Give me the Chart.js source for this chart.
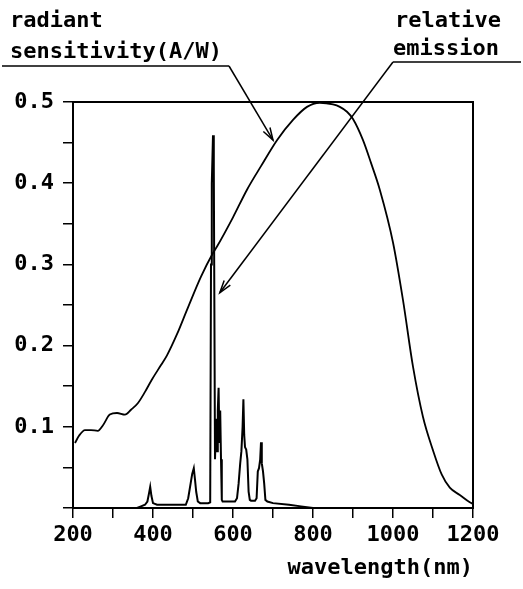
<!DOCTYPE html>
<html lang="en">
<head>
  <meta charset="UTF-8" />
  <title>Radiant sensitivity and relative emission</title>
  <script src="https://cdn.jsdelivr.net/npm/chart.js"></script>
  <style>
    body {
      margin: 0;
      background: #fff;
    }
    .wrap {
      width: 523px;
      height: 589px;
      position: relative;
    }
  </style>
</head>
<body>
  <div class="wrap">
    <canvas id="spectrumChart"></canvas>
  </div>

  <script>
    // radiant sensitivity (A/W) vs wavelength (nm)
    const sensWavelength = [205, 215, 230, 245, 262, 275, 292, 310, 330, 345, 362, 380, 397, 420, 435, 460, 485,
      520, 550, 560, 600, 635, 670, 710, 750, 785, 817, 850, 867, 885, 900, 925, 945, 967, 1000, 1025, 1050,
      1075, 1100, 1122, 1142, 1167, 1192, 1200];
    const sensValues = [0.080, 0.089, 0.096, 0.096, 0.095, 0.102, 0.115, 0.117, 0.115, 0.121, 0.129, 0.143, 0.158,
      0.176, 0.188, 0.214, 0.244, 0.285, 0.314, 0.322, 0.358, 0.392, 0.421, 0.453, 0.478, 0.494, 0.499, 0.497,
      0.494, 0.488, 0.479, 0.453, 0.425, 0.392, 0.327, 0.256, 0.174, 0.112, 0.071, 0.041, 0.025, 0.016, 0.007,
      0.005];

    // relative emission of the light source
    const emisWavelength = [360, 370, 380, 386, 390, 393, 396, 400, 410, 450, 482, 488, 494, 498, 502, 505, 508,
      512, 518, 538, 543, 545, 547, 550, 552, 553, 555, 556, 558, 560, 562, 564, 566, 568, 570, 572, 574, 576,
      590, 605, 610, 614, 618, 621, 624, 626, 628, 630, 633, 636, 639, 642, 645, 655, 659, 662, 665, 668, 670,
      672, 675, 678, 681, 686, 700, 740, 770, 800];
    const emisValues = [0.000, 0.002, 0.004, 0.008, 0.018, 0.026, 0.015, 0.006, 0.004, 0.004, 0.004, 0.012, 0.030,
      0.042, 0.049, 0.035, 0.020, 0.008, 0.006, 0.006, 0.007, 0.300, 0.400, 0.459, 0.420, 0.300, 0.060, 0.060,
      0.110, 0.070, 0.120, 0.148, 0.080, 0.120, 0.060, 0.010, 0.008, 0.008, 0.008, 0.008, 0.012, 0.030, 0.055,
      0.070, 0.100, 0.134, 0.090, 0.075, 0.072, 0.060, 0.020, 0.010, 0.009, 0.009, 0.012, 0.045, 0.049, 0.060,
      0.081, 0.055, 0.045, 0.030, 0.010, 0.008, 0.006, 0.004, 0.002, 0.000];

    const xTicks = [200, 400, 600, 800, 1000, 1200];
    const yTicks = [0.1, 0.2, 0.3, 0.4, 0.5];

    const FONT = "'DejaVu Sans Mono', 'Liberation Mono', monospace";

    const toPoints = (xs, ys) => xs.map((x, i) => ({ x: x, y: ys[i] }));

    // frame + callout labels with leader arrows
    const calloutPlugin = {
      id: 'callouts',
      afterDraw(chart) {
        const { ctx, chartArea: a, scales } = chart;
        ctx.save();
        ctx.strokeStyle = '#000';
        ctx.lineWidth = 2;
        ctx.strokeRect(a.left, a.top, a.right - a.left, a.bottom - a.top);

        ctx.fillStyle = '#000';
        ctx.font = 'bold 22px ' + FONT;
        ctx.textBaseline = 'alphabetic';
        ctx.textAlign = 'left';
        ctx.fillText('radiant', 10, 27);
        ctx.fillText('sensitivity(A/W)', 10, 58);
        ctx.textAlign = 'right';
        ctx.fillText('relative', 501, 27);
        ctx.fillText('emission', 499, 55);

        const arrow = (x0, y0, x1, y1) => {
          ctx.beginPath();
          ctx.moveTo(x0, y0);
          ctx.lineTo(x1, y1);
          ctx.stroke();
          const ang = Math.atan2(y1 - y0, x1 - x0);
          ctx.beginPath();
          ctx.moveTo(x1 - 13 * Math.cos(ang - 0.3), y1 - 13 * Math.sin(ang - 0.3));
          ctx.lineTo(x1, y1);
          ctx.lineTo(x1 - 13 * Math.cos(ang + 0.3), y1 - 13 * Math.sin(ang + 0.3));
          ctx.stroke();
        };

        ctx.lineWidth = 1.5;
        // underline + leader for sensitivity
        ctx.beginPath();
        ctx.moveTo(2, 66);
        ctx.lineTo(229, 66);
        ctx.stroke();
        arrow(229, 66, scales.x.getPixelForValue(700), scales.y.getPixelForValue(0.453));

        // underline + leader for emission
        ctx.beginPath();
        ctx.moveTo(393, 62);
        ctx.lineTo(521, 62);
        ctx.stroke();
        arrow(393, 62, scales.x.getPixelForValue(567), scales.y.getPixelForValue(0.265));
        ctx.restore();
      }
    };

    new Chart(document.getElementById('spectrumChart').getContext('2d'), {
      type: 'scatter',
      data: {
        datasets: [
          {
            label: 'radiant sensitivity',
            data: toPoints(sensWavelength, sensValues),
            showLine: true,
            borderColor: '#000',
            borderWidth: 1.8,
            pointRadius: 0,
            cubicInterpolationMode: 'monotone'
          },
          {
            label: 'relative emission',
            data: toPoints(emisWavelength, emisValues),
            showLine: true,
            borderColor: '#000',
            borderWidth: 2,
            pointRadius: 0,
            tension: 0
          }
        ]
      },
      options: {
        responsive: true,
        maintainAspectRatio: false,
        animation: false,
        layout: { padding: { top: 102, right: 50, left: 0, bottom: 0 } },
        plugins: {
          legend: { display: false },
          tooltip: { enabled: false }
        },
        scales: {
          x: {
            type: 'linear',
            min: 200,
            max: 1200,
            afterFit: s => { s.height = 81; },
            border: { display: true, color: '#000', width: 2 },
            grid: { drawOnChartArea: false, drawTicks: true, tickLength: 10, color: '#000', lineWidth: 1.5 },
            ticks: {
              stepSize: 100,
              autoSkip: false,
              maxRotation: 0,
              color: '#000',
              padding: 4,
              font: { family: FONT, size: 22, weight: 'bold' },
              callback: v => (xTicks.includes(v) ? String(v) : '')
            },
            title: {
              display: true,
              text: 'wavelength(nm)',
              align: 'end',
              color: '#000',
              padding: { top: 0, bottom: 8 },
              font: { family: FONT, size: 22, weight: 'bold' }
            }
          },
          y: {
            min: 0,
            max: 0.5,
            afterFit: s => { s.width = 73; },
            border: { display: true, color: '#000', width: 2 },
            grid: { drawOnChartArea: false, drawTicks: true, tickLength: 10, color: '#000', lineWidth: 1.5 },
            ticks: {
              stepSize: 0.05,
              autoSkip: false,
              color: '#000',
              padding: 9,
              font: { family: FONT, size: 22, weight: 'bold' },
              callback: v => {
                const t = yTicks.find(k => Math.abs(k - v) < 1e-6);
                return t ? t.toFixed(1) : '';
              }
            }
          }
        }
      },
      plugins: [calloutPlugin]
    });
  </script>
</body>
</html>
